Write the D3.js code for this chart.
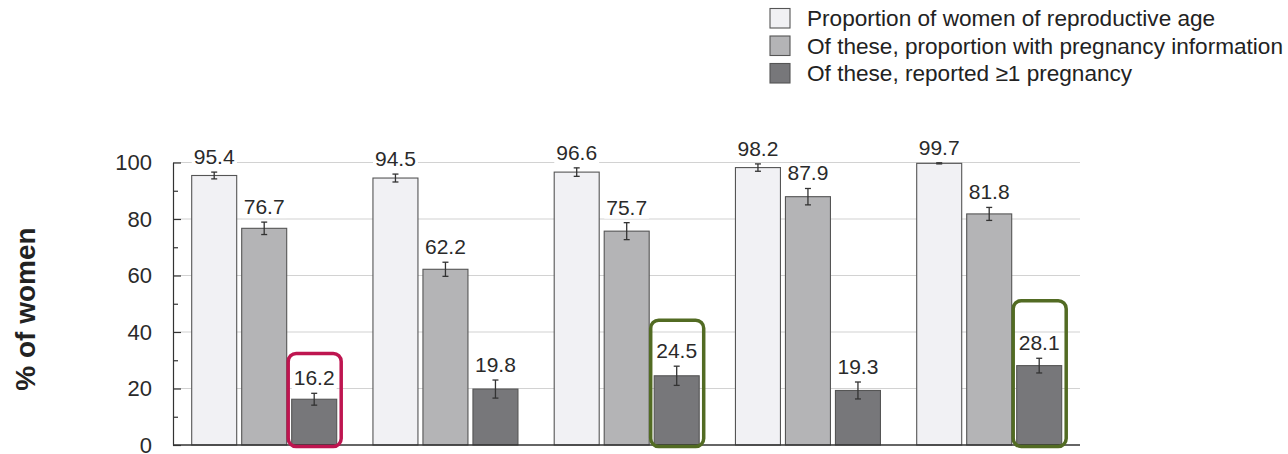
<!DOCTYPE html>
<html>
<head>
<meta charset="utf-8">
<script src="https://cdn.jsdelivr.net/npm/d3@7"></script>
<style>
  html, body { margin: 0; padding: 0; background: #fff; }
  svg { display: block; font-family: "Liberation Sans", Arial, sans-serif; }
</style>
</head>
<body>
<svg id="chart" width="1288" height="454"></svg>
<script>
// ---- data ----
const groups = ["Group 1", "Group 2", "Group 3", "Group 4", "Group 5"];
const seriesNames = [
  "Proportion of women of reproductive age",
  "Of these, proportion with pregnancy information",
  "Of these, reported \u22651 pregnancy"
];
const reproductiveAge   = [95.4, 94.5, 96.6, 98.2, 99.7];
const withPregnancyInfo = [76.7, 62.2, 75.7, 87.9, 81.8];
const reportedPregnancy = [16.2, 19.8, 24.5, 19.3, 28.1];
const errReproductive   = [1.2, 1.4, 1.5, 1.3, 0.2];
const errPregnancyInfo  = [2.2, 2.5, 3.0, 2.9, 2.3];
const errPregnancy      = [2.1, 3.2, 3.4, 3.0, 2.6];
const yTicks = [0, 20, 40, 60, 80, 100];
const highlightGroups = ["Group 1", "Group 3", "Group 5"];
const highlightTops   = [32.4, 44.2, 51.1];
const highlightKinds  = ["red", "green", "green"];

// ---- styles ----
const fills = ["#f1f1f4", "#b4b4b6", "#77777a"];
const highlightColors = { red: "#be1550", green: "#526b23" };

const svg = d3.select("#chart");

const axisX = 173, axisRight = 1080;
const y = d3.scaleLinear().domain([0, 100]).range([445, 162.5]);
const x0 = d3.scaleBand().domain(groups).range([191.7, 1061.7]).paddingInner(0.2).paddingOuter(0);
const x1 = d3.scaleBand().domain(d3.range(3)).range([0, x0.bandwidth()]).paddingInner(0.1).paddingOuter(0);

const values = [reproductiveAge, withPregnancyInfo, reportedPregnancy];
const errors = [errReproductive, errPregnancyInfo, errPregnancy];
const rows = [];
groups.forEach((g, gi) => {
  for (let s = 0; s < 3; s++) rows.push({ g, s, v: values[s][gi], e: errors[s][gi] });
});

// gridlines
svg.append("g").selectAll("line").data(yTicks.filter(t => t > 0)).join("line")
  .attr("x1", axisX).attr("x2", axisRight)
  .attr("y1", d => y(d)).attr("y2", d => y(d))
  .attr("stroke", "#d2d2d2").attr("stroke-width", 1.2);

// y axis
const yAxis = d3.axisRight(y).tickValues(d3.range(0, 101, 10)).tickSize(0).tickFormat("");
const ya = svg.append("g").attr("transform", `translate(${axisX},0)`).call(yAxis);
ya.select(".domain").attr("stroke", "#333").attr("stroke-width", 1.2);
ya.selectAll(".tick line").attr("x2", d => d % 20 === 0 ? 8 : 5).attr("stroke", "#333").attr("stroke-width", 1.2);

svg.append("g").selectAll("text").data(yTicks).join("text")
  .attr("x", 152).attr("y", d => y(d) + 7.5)
  .attr("text-anchor", "end").attr("font-size", 22).attr("fill", "#2a2a2a")
  .text(d => d);

// y title
svg.append("text")
  .attr("transform", "translate(35,309) rotate(-90)")
  .attr("text-anchor", "middle").attr("font-size", 28).attr("font-weight", "bold").attr("fill", "#222")
  .text("% of women");

// bars
const bars = svg.append("g");
bars.selectAll("rect").data(rows).join("rect")
  .attr("x", d => x0(d.g) + x1(d.s))
  .attr("y", d => y(d.v))
  .attr("width", x1.bandwidth())
  .attr("height", d => y(0) - y(d.v))
  .attr("fill", d => fills[d.s])
  .attr("stroke", "#555").attr("stroke-width", 1.1);

// x axis line
svg.append("line").attr("x1", axisX).attr("x2", axisRight).attr("y1", y(0)).attr("y2", y(0))
  .attr("stroke", "#333").attr("stroke-width", 1.4);

// error bars
const eb = svg.append("g").attr("stroke", "#333").attr("stroke-width", 1.3);
rows.forEach(d => {
  const cx = x0(d.g) + x1(d.s) + x1.bandwidth() / 2;
  eb.append("line").attr("x1", cx).attr("x2", cx).attr("y1", y(d.v + d.e)).attr("y2", y(d.v - d.e));
  eb.append("line").attr("x1", cx - 3).attr("x2", cx + 3).attr("y1", y(d.v + d.e)).attr("y2", y(d.v + d.e));
  eb.append("line").attr("x1", cx - 3).attr("x2", cx + 3).attr("y1", y(d.v - d.e)).attr("y2", y(d.v - d.e));
});

// value labels with white background
const lab = svg.append("g");
rows.forEach(d => {
  const cx = x0(d.g) + x1(d.s) + x1.bandwidth() / 2;
  const by = y(d.v + d.e) - 8;
  const t = lab.append("text").attr("x", cx).attr("y", by)
    .attr("text-anchor", "middle").attr("font-size", 21).attr("fill", "#2a2a2a")
    .text(d.v.toFixed(1));
  const bb = t.node().getBBox();
  lab.insert("rect", () => t.node())
    .attr("x", bb.x - 2).attr("y", bb.y + 2).attr("width", bb.width + 4).attr("height", bb.height - 2)
    .attr("fill", "#fff");
});

// highlight boxes
highlightGroups.forEach((g, i) => {
  const bx = x0(g) + x1(2);
  svg.append("rect")
    .attr("x", bx - 3.5).attr("y", y(highlightTops[i]))
    .attr("width", x1.bandwidth() + 8).attr("height", y(0) + 1.5 - y(highlightTops[i]))
    .attr("rx", 8).attr("ry", 8)
    .attr("fill", "none").attr("stroke", highlightColors[highlightKinds[i]]).attr("stroke-width", 3.5);
});

// legend
const lg = svg.append("g");
seriesNames.forEach((n, i) => {
  const yy = 8.5 + i * 27.5;
  lg.append("rect").attr("x", 770).attr("y", yy).attr("width", 20).attr("height", 19.5)
    .attr("fill", fills[i]).attr("stroke", "#555").attr("stroke-width", 1.1);
  lg.append("text").attr("x", 807).attr("y", yy + 17.5).attr("font-size", 22.6).attr("fill", "#222").text(n);
});
</script>
</body>
</html>
